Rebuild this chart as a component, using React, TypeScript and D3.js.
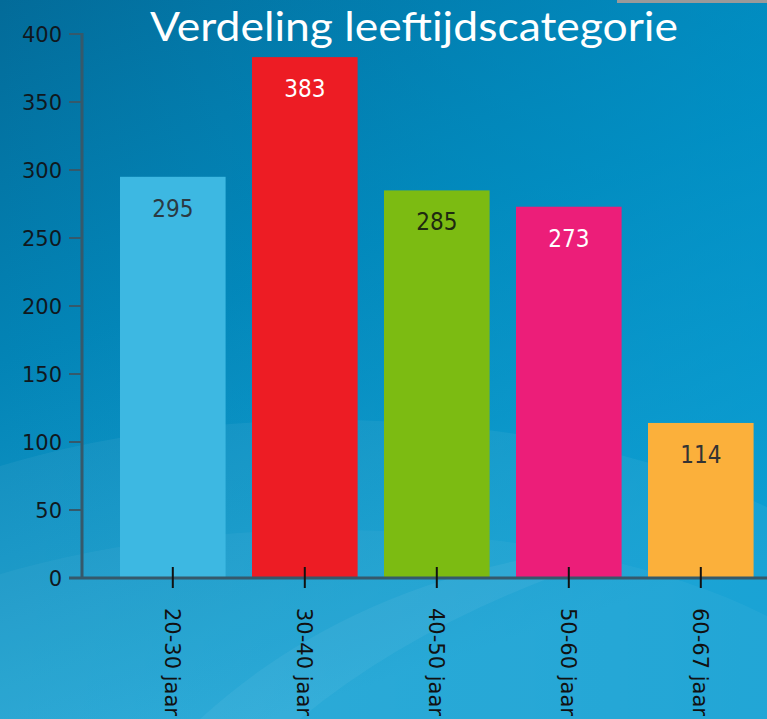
import React from "react";
import { scaleBand, scaleLinear } from "d3";

// chart data
const categories = ["20-30 jaar", "30-40 jaar", "40-50 jaar", "50-60 jaar", "60-67 jaar"];
const counts = [295, 383, 285, 273, 114];
const barColors = ["#3db8e2", "#ed1c24", "#7cbb12", "#ec1e79", "#fbb03b"];
const labelColors = ["#2b3a42", "#ffffff", "#1e2a10", "#ffffff", "#333333"];
const yTicks = [0, 50, 100, 150, 200, 250, 300, 350, 400];
const title = "Verdeling leeftijdscategorie";

const W = 767;
const H = 719;

function Background() {
    return (
        <g>
            <defs>
                <linearGradient id="bg" x1="0" y1="0" x2="0.35" y2="1">
                    <stop offset="0" stopColor="#036b99" />
                    <stop offset="0.45" stopColor="#0384b6" />
                    <stop offset="1" stopColor="#1ea6d6" />
                </linearGradient>
                <linearGradient id="bgRight" x1="0" y1="0" x2="1" y2="0">
                    <stop offset="0" stopColor="#0096cc" stopOpacity="0" />
                    <stop offset="1" stopColor="#0099d0" stopOpacity="0.55" />
                </linearGradient>
            </defs>
            <rect x={0} y={0} width={W} height={H} fill="url(#bg)" />
            <rect x={0} y={0} width={W} height={H} fill="url(#bgRight)" />
            {/* soft swirls */}
            <ellipse cx={330} cy={720} rx={620} ry={300} fill="#ffffff" opacity={0.05} />
            <ellipse cx={330} cy={760} rx={560} ry={230} fill="#ffffff" opacity={0.04} />
            <path d="M 200 719 Q 330 600 520 560 L 600 560 Q 420 620 300 719 Z" fill="#ffffff" opacity={0.05} />
            <rect x={617} y={0} width={150} height={3} fill="#9a9a9a" />
        </g>
    );
}

export default function App() {
    const offsetX = 82;
    const top = 34;
    const bottom = 578;

    const yScale = scaleLinear().domain([0, 400]).range([bottom, top]);
    const xScale = scaleBand()
        .domain(categories)
        .range([106.8, 766.8])
        .paddingInner(0.2)
        .paddingOuter(0.1);

    return (
        <svg width={W} height={H} style={{ position: "fixed", left: 0, top: 0, display: "block" }}>
            <Background />

            <text x={150} y={40.5} fill="#ffffff" fontFamily="Lato, 'Open Sans', sans-serif" fontSize={40}
                  textLength={528} lengthAdjust="spacingAndGlyphs">
                {title}
            </text>

            {/* bars */}
            {counts.map((d, i) => (
                <g key={i}>
                    <rect x={xScale(categories[i])}
                          y={yScale(d)}
                          width={xScale.bandwidth()}
                          height={bottom - yScale(d)}
                          fill={barColors[i]} />
                    <text x={xScale(categories[i])! + xScale.bandwidth() / 2}
                          y={yScale(d) + 40}
                          textAnchor="middle"
                          fill={labelColors[i]}
                          fontFamily="'DejaVu Sans Condensed', 'DejaVu Sans', sans-serif"
                          fontSize={24}>
                        {d}
                    </text>
                </g>
            ))}

            {/* y axis */}
            <line x1={offsetX} x2={offsetX} y1={top - 1} y2={bottom + 1} stroke="#35596b" strokeWidth={3} />
            {yTicks.map(t => (
                <g key={t} transform={`translate(0, ${yScale(t)})`}>
                    <line x1={69} x2={offsetX} stroke="#35596b" strokeWidth={2} />
                    <text x={62} dy="0.36em" textAnchor="end" fill="#10181e"
                          fontFamily="'DejaVu Sans', sans-serif" fontSize={21}>
                        {t}
                    </text>
                </g>
            ))}

            {/* x axis */}
            <line x1={69} x2={W} y1={bottom} y2={bottom} stroke="#35596b" strokeWidth={3} />
            {categories.map(c => {
                const cx = xScale(c)! + xScale.bandwidth() / 2;
                return (
                    <g key={c}>
                        <line x1={cx} x2={cx} y1={567} y2={588} stroke="#111" strokeWidth={2} />
                        <text transform={`translate(${cx}, 608) rotate(90)`} dy="0.36em" fill="#111"
                              fontFamily="'DejaVu Sans', sans-serif" fontSize={21}>
                            {c}
                        </text>
                    </g>
                );
            })}
        </svg>
    );
}
